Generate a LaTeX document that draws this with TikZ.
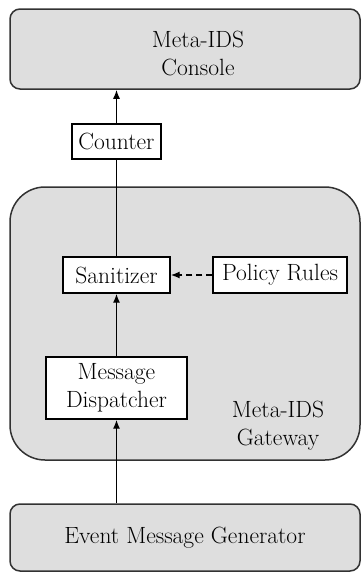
\documentclass[tikz,border=0pt]{standalone}
\usetikzlibrary{arrows.meta,positioning,calc}
\definecolor{boxgray}{RGB}{222,222,222}
\definecolor{edgegray}{RGB}{50,50,50}

\begin{document}
\begin{tikzpicture}[x=1pt, y=-1pt,
    every node/.style={font=\fontsize{23.5}{28}\selectfont, inner sep=0pt},
    bigbox/.style={draw=edgegray, line width=1.5pt, fill=boxgray, minimum width=350pt, rounded corners=10pt},
    smallbox/.style={draw=black, line width=1.4pt, fill=white, align=center},
    flow/.style={line width=1.4pt, -{Latex[length=9pt,width=7pt]}}]
    \useasboundingbox (0,0) rectangle (361,573);

    % Console
    \node[bigbox, minimum height=80pt] (console) at (185,49) {};
    \node[align=center] (consoletxt) at (198,53) {Meta-IDS\\Console};

    % Counter
    \node[smallbox, minimum width=89pt, minimum height=35pt] (counter) at (116.5,141.5) {Counter};

    % Gateway
    \node[bigbox, minimum height=273pt, rounded corners=35pt] (gateway) at (185,323.5) {};
    \node[align=center] (gatewaytxt) at (278,426) {Meta-IDS\\Gateway};
    \node[smallbox, minimum width=107pt, minimum height=36pt] (sanitizer) at (116.5,275) {Sanitizer};
    \node[smallbox, minimum width=134pt, minimum height=36pt] (policy) at (280,275) {Policy Rules};
    \node[smallbox, minimum width=141pt, minimum height=62pt] (dispatcher) at (116.5,388) {Message\\Dispatcher};

    % Generator
    \node[bigbox, minimum height=67pt] (generator) at (185,537.5) {Event Message Generator};

    % Flow
    \draw[flow] (dispatcher.south |- generator.north) -- (dispatcher.south);
    \draw[flow] (dispatcher.north) -- (sanitizer.south);
    \draw[line width=1.4pt] (sanitizer.north) -- (counter.south);
    \draw[flow] (counter.north) -- (counter.north |- console.south);
    \draw[flow, dash pattern=on 6pt off 4pt] (policy.west) -- (sanitizer.east);
\end{tikzpicture}
\end{document}
